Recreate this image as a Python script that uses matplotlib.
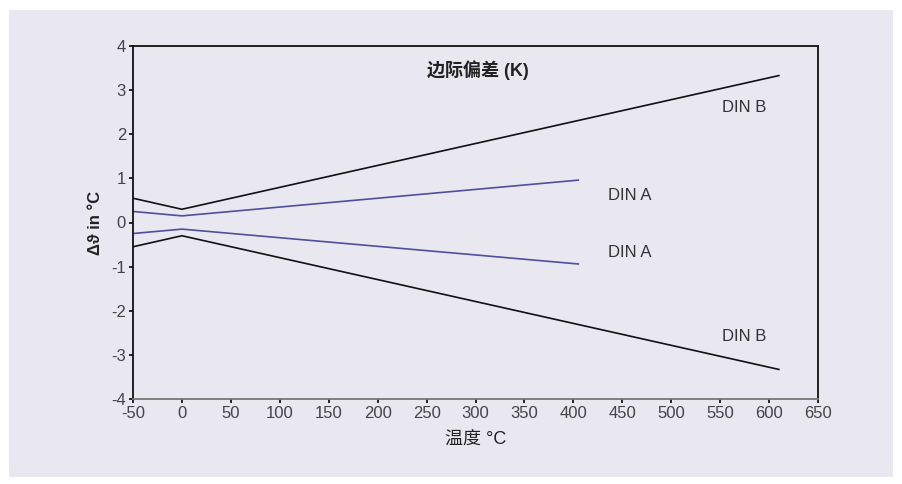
import matplotlib
matplotlib.use("Agg")
import matplotlib.pyplot as plt
from matplotlib.patches import Rectangle

plt.rcParams['font.family'] = ['Liberation Sans', 'Noto Sans CJK SC', 'DejaVu Sans']
plt.rcParams['axes.unicode_minus'] = False

# tolerance curves
din_b_t = [-50, 0, 610]
din_b_up = [0.55, 0.3, 3.33]
din_b_lo = [-0.55, -0.3, -3.33]
din_a_t = [-50, 0, 405]
din_a_up = [0.25, 0.15, 0.96]
din_a_lo = [-0.25, -0.15, -0.94]

x_ticks = list(range(-50, 651, 50))
y_ticks = list(range(-4, 5))

bg = '#e9e8f1'
fig = plt.figure(figsize=(9.02, 4.84), dpi=100, facecolor='white')
fig.patches.append(Rectangle((9 / 902, 1 - 477 / 484), 884 / 902, 467 / 484,
                             transform=fig.transFigure, facecolor=bg,
                             edgecolor='none', zorder=-10))

ax = fig.add_axes([133 / 902, 1 - 399 / 484, 685 / 902, 353 / 484])
ax.set_facecolor(bg)

ax.plot(din_b_t, din_b_up, color='#111111', lw=1.2)
ax.plot(din_b_t, din_b_lo, color='#111111', lw=1.2)
ax.plot(din_a_t, din_a_up, color='#4f4f9e', lw=1.2)
ax.plot(din_a_t, din_a_lo, color='#4f4f9e', lw=1.2)

txt = '#333333'
ax.text(575, 2.6, 'DIN B', fontsize=12, color=txt, ha='center', va='center')
ax.text(575, -2.58, 'DIN B', fontsize=12, color=txt, ha='center', va='center')
ax.text(458, 0.62, 'DIN A', fontsize=12, color=txt, ha='center', va='center')
ax.text(458, -0.67, 'DIN A', fontsize=12, color=txt, ha='center', va='center')
ax.text(302, 3.46, '边际偏差 (K)', fontsize=13, color='#222222', ha='center',
        va='center', fontweight='bold')

ax.set_xlim(-50, 650)
ax.set_ylim(-4, 4)
ax.set_xticks(x_ticks)
ax.set_yticks(y_ticks)
ax.tick_params(axis='both', labelsize=12, labelcolor='#444444', length=3,
               width=1.2, direction='out', pad=2)
for s in ax.spines.values():
    s.set_linewidth(1.3)
    s.set_color('#111111')
ax.spines['bottom'].set_color('#777777')

ax.set_xlabel('温度 °C', fontsize=13, color='#222222', labelpad=7)
ax.set_ylabel('Δϑ in °C', fontsize=12, color='#222222', fontweight='bold',
              labelpad=6)

fig.savefig('out.png', dpi=100, facecolor='white')
